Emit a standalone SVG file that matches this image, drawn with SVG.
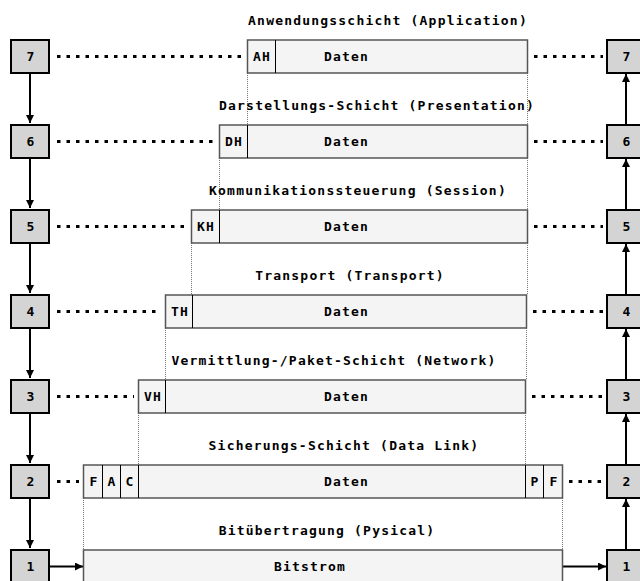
<svg xmlns="http://www.w3.org/2000/svg" width="640" height="581" viewBox="0 0 640 581">
  <style>
    text { font-family: "DejaVu Sans Mono", "Liberation Mono", monospace; font-weight: bold; font-size: 13px; letter-spacing: 1.2px; fill: #000; }
    .mid { text-anchor: middle; }
    .layer { fill: #d4d4d4; stroke: #000; stroke-width: 2; }
    .frame { fill: #f4f4f4; stroke: #555; stroke-width: 1.5; }
    .div { stroke: #000; stroke-width: 1; }
    .guide { stroke: #777; stroke-width: 1; stroke-dasharray: 1 1; fill: none; }
    .dots { stroke: #000; stroke-width: 3; stroke-dasharray: 3.5 6; fill: none; }
    .flow { stroke: #000; stroke-width: 2; fill: none; }
  </style>
  <defs>
    <marker id="arrow" viewBox="0 0 8 8" refX="8" refY="4" markerWidth="4" markerHeight="4" orient="auto" markerUnits="strokeWidth">
      <path d="M0,0 L8,4 L0,8 z" fill="#000"/>
    </marker>
  </defs>

  <!-- vertical guides between packet edges -->
  <g id="guides">
    <line class="guide" x1="247.5" y1="73" x2="247.5" y2="124"/>
    <line class="guide" x1="527.5" y1="73" x2="527.5" y2="124"/>
    <line class="guide" x1="219.5" y1="158" x2="219.5" y2="209"/>
    <line class="guide" x1="527.5" y1="158" x2="527.5" y2="209"/>
    <line class="guide" x1="191.5" y1="243" x2="191.5" y2="294"/>
    <line class="guide" x1="527.5" y1="243" x2="527.5" y2="294"/>
    <line class="guide" x1="165.5" y1="328" x2="165.5" y2="379"/>
    <line class="guide" x1="526.5" y1="328" x2="526.5" y2="379"/>
    <line class="guide" x1="138.5" y1="413" x2="138.5" y2="464"/>
    <line class="guide" x1="525.5" y1="413" x2="525.5" y2="464"/>
    <line class="guide" x1="83.5" y1="498" x2="83.5" y2="549"/>
    <line class="guide" x1="562.5" y1="498" x2="562.5" y2="549"/>
  </g>

  <!-- layer titles -->
  <g id="titles">
    <text class="mid" x="388" y="25">Anwendungsschicht (Application)</text>
    <text class="mid" x="377" y="110">Darstellungs-Schicht (Presentation)</text>
    <text class="mid" x="358" y="195">Kommunikationssteuerung (Session)</text>
    <text class="mid" x="350" y="280">Transport (Transport)</text>
    <text class="mid" x="334" y="365">Vermittlung-/Paket-Schicht (Network)</text>
    <text class="mid" x="344" y="450">Sicherungs-Schicht (Data Link)</text>
    <text class="mid" x="327" y="535">Bitübertragung (Pysical)</text>
  </g>

  <!-- connectors -->
  <g id="connectors">
    <line class="dots" x1="57" y1="56.5" x2="243" y2="56.5"/>
    <line class="dots" x1="534" y1="56.5" x2="603" y2="56.5"/>
    <line class="dots" x1="57" y1="141.5" x2="215" y2="141.5"/>
    <line class="dots" x1="534" y1="141.5" x2="603" y2="141.5"/>
    <line class="dots" x1="57" y1="226.5" x2="187" y2="226.5"/>
    <line class="dots" x1="534" y1="226.5" x2="603" y2="226.5"/>
    <line class="dots" x1="57" y1="311.5" x2="161" y2="311.5"/>
    <line class="dots" x1="533" y1="311.5" x2="603" y2="311.5"/>
    <line class="dots" x1="57" y1="396.5" x2="134" y2="396.5"/>
    <line class="dots" x1="532" y1="396.5" x2="603" y2="396.5"/>
    <line class="dots" x1="57" y1="481.5" x2="79" y2="481.5"/>
    <line class="dots" x1="569" y1="481.5" x2="603" y2="481.5"/>

    <line class="flow" x1="30" y1="73" x2="30" y2="123" marker-end="url(#arrow)"/>
    <line class="flow" x1="30" y1="158" x2="30" y2="208" marker-end="url(#arrow)"/>
    <line class="flow" x1="30" y1="243" x2="30" y2="293" marker-end="url(#arrow)"/>
    <line class="flow" x1="30" y1="328" x2="30" y2="378" marker-end="url(#arrow)"/>
    <line class="flow" x1="30" y1="413" x2="30" y2="463" marker-end="url(#arrow)"/>
    <line class="flow" x1="30" y1="498" x2="30" y2="548" marker-end="url(#arrow)"/>
    <line class="flow" x1="49" y1="566.5" x2="83" y2="566.5" marker-end="url(#arrow)"/>

    <line class="flow" x1="563" y1="566.5" x2="606" y2="566.5" marker-end="url(#arrow)"/>
    <line class="flow" x1="626" y1="549" x2="626" y2="499" marker-end="url(#arrow)"/>
    <line class="flow" x1="626" y1="464" x2="626" y2="414" marker-end="url(#arrow)"/>
    <line class="flow" x1="626" y1="379" x2="626" y2="329" marker-end="url(#arrow)"/>
    <line class="flow" x1="626" y1="294" x2="626" y2="244" marker-end="url(#arrow)"/>
    <line class="flow" x1="626" y1="209" x2="626" y2="159" marker-end="url(#arrow)"/>
    <line class="flow" x1="626" y1="124" x2="626" y2="74" marker-end="url(#arrow)"/>
  </g>

  <!-- sender stack -->
  <g id="send-7"><rect class="layer" x="11" y="40" width="38" height="33"/><text class="mid" x="31" y="61">7</text></g>
  <g id="send-6"><rect class="layer" x="11" y="125" width="38" height="33"/><text class="mid" x="31" y="146">6</text></g>
  <g id="send-5"><rect class="layer" x="11" y="210" width="38" height="33"/><text class="mid" x="31" y="231">5</text></g>
  <g id="send-4"><rect class="layer" x="11" y="295" width="38" height="33"/><text class="mid" x="31" y="316">4</text></g>
  <g id="send-3"><rect class="layer" x="11" y="380" width="38" height="33"/><text class="mid" x="31" y="401">3</text></g>
  <g id="send-2"><rect class="layer" x="11" y="465" width="38" height="33"/><text class="mid" x="31" y="486">2</text></g>
  <g id="send-1"><rect class="layer" x="11" y="550" width="38" height="34"/><text class="mid" x="31" y="571">1</text></g>

  <!-- receiver stack -->
  <g id="recv-7"><rect class="layer" x="607" y="40" width="38" height="33"/><text class="mid" x="627" y="61">7</text></g>
  <g id="recv-6"><rect class="layer" x="607" y="125" width="38" height="33"/><text class="mid" x="627" y="146">6</text></g>
  <g id="recv-5"><rect class="layer" x="607" y="210" width="38" height="33"/><text class="mid" x="627" y="231">5</text></g>
  <g id="recv-4"><rect class="layer" x="607" y="295" width="38" height="33"/><text class="mid" x="627" y="316">4</text></g>
  <g id="recv-3"><rect class="layer" x="607" y="380" width="38" height="33"/><text class="mid" x="627" y="401">3</text></g>
  <g id="recv-2"><rect class="layer" x="607" y="465" width="38" height="33"/><text class="mid" x="627" y="486">2</text></g>
  <g id="recv-1"><rect class="layer" x="607" y="550" width="38" height="34"/><text class="mid" x="627" y="571">1</text></g>

  <!-- packets per layer -->
  <g id="pdu-7">
    <rect class="frame" x="247.5" y="40" width="280" height="33"/>
    <line class="div" x1="275.5" y1="40" x2="275.5" y2="73"/>
    <text class="mid" x="262" y="61">AH</text>
    <text x="324" y="61">Daten</text>
  </g>
  <g id="pdu-6">
    <rect class="frame" x="219.5" y="125" width="308" height="33"/>
    <line class="div" x1="247.5" y1="125" x2="247.5" y2="158"/>
    <text class="mid" x="234" y="146">DH</text>
    <text x="324" y="146">Daten</text>
  </g>
  <g id="pdu-5">
    <rect class="frame" x="191.5" y="210" width="336" height="33"/>
    <line class="div" x1="219.5" y1="210" x2="219.5" y2="243"/>
    <text class="mid" x="206" y="231">KH</text>
    <text x="324" y="231">Daten</text>
  </g>
  <g id="pdu-4">
    <rect class="frame" x="165.5" y="295" width="361" height="33"/>
    <line class="div" x1="192.5" y1="295" x2="192.5" y2="328"/>
    <text class="mid" x="180" y="316">TH</text>
    <text x="324" y="316">Daten</text>
  </g>
  <g id="pdu-3">
    <rect class="frame" x="138.5" y="380" width="387" height="33"/>
    <line class="div" x1="165.5" y1="380" x2="165.5" y2="413"/>
    <text class="mid" x="153" y="401">VH</text>
    <text x="324" y="401">Daten</text>
  </g>
  <g id="pdu-2">
    <rect class="frame" x="83.5" y="465" width="479" height="33"/>
    <line class="div" x1="102.5" y1="465" x2="102.5" y2="498"/>
    <line class="div" x1="120.5" y1="465" x2="120.5" y2="498"/>
    <line class="div" x1="138.5" y1="465" x2="138.5" y2="498"/>
    <line class="div" x1="525.5" y1="465" x2="525.5" y2="498"/>
    <line class="div" x1="543.5" y1="465" x2="543.5" y2="498"/>
    <text class="mid" x="94" y="486">F</text>
    <text class="mid" x="112" y="486">A</text>
    <text class="mid" x="130" y="486">C</text>
    <text x="324" y="486">Daten</text>
    <text class="mid" x="535" y="486">P</text>
    <text class="mid" x="554" y="486">F</text>
  </g>
  <g id="pdu-1">
    <rect class="frame" x="83.5" y="550" width="479" height="34"/>
    <text class="mid" x="310" y="571">Bitstrom</text>
  </g>
</svg>
